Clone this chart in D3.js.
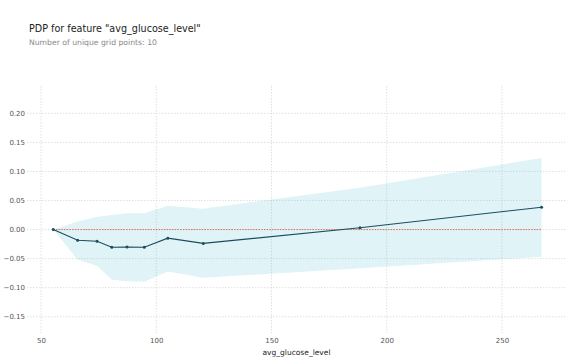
<!DOCTYPE html>
<html><head><meta charset="utf-8">
<script src="https://cdn.jsdelivr.net/npm/d3@7"></script>
<style>body{margin:0;background:#fff;} svg{display:block;font-family:"DejaVu Sans",sans-serif;}</style>
</head><body><svg id="c" width="570" height="360"></svg>
<script>
const gridX = [55.3, 65.9, 74.3, 80.7, 87.3, 94.8, 105.0, 120.4, 188.4, 267.2];
const pdpValues = [0.0, -0.0185, -0.020, -0.0305, -0.030, -0.0305, -0.0148, -0.0238, 0.0030, 0.0385];
const upperValues = [0.0, 0.014, 0.022, 0.025, 0.028, 0.028, 0.041, 0.036, 0.072, 0.123];
const lowerValues = [0.0, -0.052, -0.0625, -0.0865, -0.089, -0.090, -0.072, -0.083, -0.0665, -0.047];
const xTicks = [50, 100, 150, 200, 250];
const yTicks = [-0.15, -0.10, -0.05, 0.00, 0.05, 0.10, 0.15, 0.20];

const svg = d3.select("#c");
const L = 27, R = 566, T = 86, B = 333;
const x = d3.scaleLinear().domain([43.9, 277.8]).range([L, R]);
const y = d3.scaleLinear().domain([-0.178, 0.247]).range([B, T]);

// title
svg.append("text").attr("x", 29).attr("y", 32).attr("font-size", 9.6).attr("fill", "#222")
  .text('PDP for feature "avg_glucose_level"');
svg.append("text").attr("x", 29).attr("y", 45).attr("font-size", 7.7).attr("fill", "#888")
  .text("Number of unique grid points: 10");

// grid
const grid = svg.append("g").attr("stroke", "#d8d8d8").attr("stroke-width", 0.8).attr("stroke-dasharray", "1.5,1.5");
grid.selectAll(".gx").data(xTicks).join("line")
  .attr("x1", d => x(d)).attr("x2", d => x(d)).attr("y1", T).attr("y2", B);
grid.selectAll(".gy").data(yTicks).join("line")
  .attr("x1", L).attr("x2", R).attr("y1", d => y(d)).attr("y2", d => y(d));

// tick labels
const yAxis = d3.axisLeft(y).tickValues(yTicks).tickFormat(d3.format(".2f")).tickSize(0).tickPadding(2);
const ya = svg.append("g").attr("transform", `translate(${L},0)`).call(yAxis);
ya.select(".domain").remove();
ya.selectAll("text").attr("font-size", 7).attr("fill", "#555").attr("font-family", "DejaVu Sans");

const xAxis = d3.axisBottom(x).tickValues(xTicks).tickFormat(d3.format("d")).tickSize(0).tickPadding(5);
const xa = svg.append("g").attr("transform", `translate(0,${B})`).call(xAxis);
xa.select(".domain").remove();
xa.selectAll("text").attr("font-size", 7).attr("fill", "#555").attr("font-family", "DejaVu Sans");

svg.append("text").attr("x", (L + R) / 2).attr("y", 355).attr("text-anchor", "middle")
  .attr("font-size", 7.5).attr("fill", "#222").text("avg_glucose_level");

// band
const data = gridX.map((v, i) => ({x: v, y: pdpValues[i], lo: lowerValues[i], hi: upperValues[i]}));
svg.append("path").datum(data)
  .attr("d", d3.area().x(d => x(d.x)).y0(d => y(d.lo)).y1(d => y(d.hi)))
  .attr("fill", "#66C2D7").attr("fill-opacity", 0.2);

// zero line
svg.append("line").attr("x1", x(gridX[0])).attr("x2", x(gridX[gridX.length - 1]))
  .attr("y1", y(0)).attr("y2", y(0))
  .attr("stroke", "#E8604F").attr("stroke-width", 0.9).attr("stroke-dasharray", "1.5,1.2");

// line
svg.append("path").datum(data)
  .attr("d", d3.line().x(d => x(d.x)).y(d => y(d.y)))
  .attr("fill", "none").attr("stroke", "#1A4E5D").attr("stroke-width", 1.1);
svg.selectAll(".pt").data(data).join("circle")
  .attr("cx", d => x(d.x)).attr("cy", d => y(d.y)).attr("r", 1.5).attr("fill", "#1A4E5D");
</script></body></html>
